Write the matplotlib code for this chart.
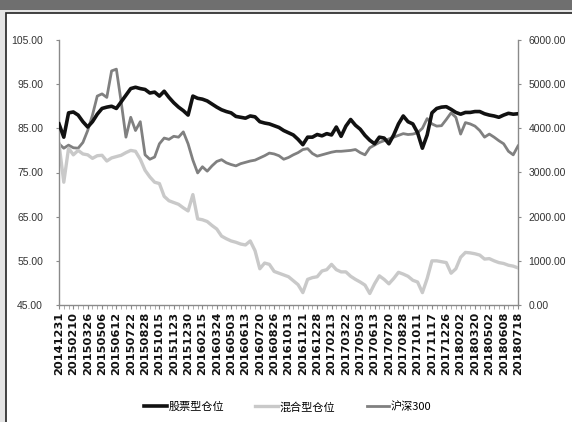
import numpy as np
import matplotlib
matplotlib.use("Agg")
import matplotlib.pyplot as plt
from matplotlib.patches import Rectangle
from matplotlib.ticker import FormatStrFormatter

plt.rcParams['font.family'] = ['Noto Sans CJK SC', 'DejaVu Sans']

tick_labels = ["20141231", "20150210", "20150326", "20150506", "20150612", "20150722",
               "20150828", "20151015", "20151123", "20151230", "20160215", "20160324",
               "20160503", "20160613", "20160720", "20160826", "20161013", "20161121",
               "20161228", "20170213", "20170322", "20170503", "20170613", "20170720",
               "20170828", "20171011", "20171117", "20171226", "20180202", "20180320",
               "20180502", "20180608", "20180718"]

series_names = ["股票型仓位", "混合型仓位", "沪深300"]

left_ticks = [45, 55, 65, 75, 85, 95, 105]
right_ticks = [0, 1000, 2000, 3000, 4000, 5000, 6000]

stock_pos = [86.0, 83.0, 88.5, 88.7, 88.0, 86.5, 85.3, 86.5, 88.2, 89.5,
             89.8, 90.0, 89.5, 91.0, 92.5, 94.0, 94.3, 94.0, 93.8, 93.0,
             93.2, 92.3, 93.4, 92.0, 90.8, 89.8, 89.0, 88.0, 92.3, 91.8,
             91.6, 91.2, 90.5, 89.8, 89.2, 88.8, 88.5, 87.7, 87.5, 87.3,
             87.8, 87.6, 86.5, 86.2, 86.0, 85.6, 85.2, 84.5, 84.0, 83.5,
             82.5, 81.3, 83.0, 83.0, 83.6, 83.3, 83.8, 83.5, 85.3, 83.2,
             85.5, 87.0, 85.7, 84.8, 83.4, 82.3, 81.5, 83.0, 82.8, 81.5,
             83.5, 86.0, 87.8, 86.5, 86.0, 84.0, 80.5, 83.5, 88.5, 89.5,
             89.8, 89.9, 89.3, 88.6, 88.2, 88.6, 88.6, 88.8, 88.8, 88.3,
             88.0, 87.8, 87.5, 88.0, 88.4, 88.2, 88.3]

mixed_pos = [81.5, 72.8, 80.5, 79.0, 80.0, 79.2, 79.0, 78.2, 78.8, 78.9,
             77.6, 78.3, 78.6, 78.9, 79.5, 80.0, 79.8, 78.0, 75.5, 74.0,
             72.8, 72.5, 69.6, 68.6, 68.2, 67.8, 67.0, 66.3, 70.0, 64.5,
             64.3, 63.9, 63.0, 62.2, 60.6, 60.0, 59.5, 59.2, 58.8, 58.6,
             59.5, 57.3, 53.2, 54.5, 54.2, 52.6, 52.2, 51.8, 51.4, 50.5,
             49.6, 47.8, 50.8, 51.2, 51.4, 52.7, 53.0, 54.2, 53.0, 52.5,
             52.5, 51.5, 50.8, 50.2, 49.5, 47.6, 49.8, 51.6, 50.8, 49.8,
             51.0, 52.4, 52.0, 51.5, 50.6, 50.2, 47.8, 51.0, 55.0, 55.0,
             54.8, 54.6, 52.2, 53.2, 55.8, 56.9, 56.8, 56.6, 56.3, 55.4,
             55.5, 55.0, 54.6, 54.4, 54.0, 53.8, 53.4]

hs300 = [3650, 3550, 3620, 3560, 3550, 3680, 3950, 4300, 4730, 4780,
         4700, 5300, 5340, 4600, 3800, 4250, 3950, 4150, 3400, 3300,
         3350, 3650, 3780, 3750, 3820, 3800, 3920, 3650, 3280, 2990,
         3130, 3030, 3150, 3250, 3290, 3220, 3180, 3150, 3200, 3230,
         3260, 3280, 3330, 3380, 3440, 3420, 3380, 3300, 3340, 3400,
         3450, 3520, 3540, 3430, 3370, 3400, 3430, 3460, 3480, 3480,
         3490, 3500, 3520, 3450, 3400, 3560, 3620, 3680, 3720, 3760,
         3800, 3840, 3880, 3860, 3870, 3900, 4000, 4220, 4100, 4050,
         4060, 4200, 4350, 4250, 3870, 4130, 4100, 4050, 3950, 3800,
         3870, 3800, 3720, 3650, 3480, 3400, 3600]

W, H = 572, 422
fig = plt.figure(figsize=(W / 100, H / 100), dpi=100)
fig.patch.set_facecolor('#e4e4e4')

# title band and white panel (behind the axes)
fig.patches.append(Rectangle((0, 1 - 10 / H), 1, 10 / H, transform=fig.transFigure,
                             facecolor='#6f6f6f', edgecolor='none', zorder=-10))
fig.patches.append(Rectangle((6 / W, -0.05), 1.1, 1 - 13 / H + 0.05, transform=fig.transFigure,
                             facecolor='white', edgecolor='#222222', linewidth=1.2, zorder=-10))

ax = fig.add_axes([59 / W, 1 - 305 / H, (518 - 59) / W, (305 - 40) / H])
ax2 = ax.twinx()

x = np.arange(len(stock_pos))

l2, = ax2.plot(x, hs300, color='#808080', lw=2.0, label=series_names[2])
l0, = ax.plot(x, stock_pos, color='#111111', lw=2.6, label=series_names[0], zorder=3)
l1, = ax.plot(x, mixed_pos, color='#c9c9c9', lw=2.4, label=series_names[1], zorder=2)

ax2.set_zorder(1)
ax.set_zorder(2)
ax.patch.set_visible(False)
ax2.patch.set_visible(False)

ax.set_xlim(0, len(stock_pos) - 1)
ax.set_ylim(left_ticks[0], left_ticks[-1])
ax2.set_ylim(right_ticks[0], right_ticks[-1])
ax.set_yticks(left_ticks)
ax2.set_yticks(right_ticks)
ax.yaxis.set_major_formatter(FormatStrFormatter('%.2f'))
ax2.yaxis.set_major_formatter(FormatStrFormatter('%.2f'))

tick_pos = x[::3]
ax.set_xticks(tick_pos)
ax.set_xticklabels(tick_labels, rotation=90, fontsize=8.2, fontweight='bold',
                   family=['DejaVu Sans'], color='#111111')
ax.set_xticks(x, minor=True)

for a in (ax, ax2):
    for s in a.spines.values():
        s.set_visible(False)
ax.spines['left'].set_visible(True)
ax.spines['bottom'].set_visible(True)
ax2.spines['right'].set_visible(True)
for s in (ax.spines['left'], ax.spines['bottom'], ax2.spines['right']):
    s.set_color('#8a8a8a')
    s.set_linewidth(1.0)

ax.tick_params(axis='y', length=2.5, color='#8a8a8a', pad=9, labelsize=7.5, labelcolor='#333333')
ax2.tick_params(axis='y', length=2.5, color='#8a8a8a', pad=5, labelsize=7.5, labelcolor='#333333')
for lab in ax.get_yticklabels() + ax2.get_yticklabels():
    lab.set_family(['Liberation Sans', 'DejaVu Sans'])
ax.tick_params(axis='x', which='major', length=3, color='#8a8a8a', pad=2)
ax.tick_params(axis='x', which='minor', length=3, color='#a0a0a0')

fig.legend([l0, l1, l2], series_names, loc='center', bbox_to_anchor=(288 / W, 1 - 407 / H),
           ncol=3, frameon=False, handlelength=2.0, handletextpad=0.2, columnspacing=2.8,
           prop={'family': ['Noto Sans CJK SC', 'DejaVu Sans'], 'size': 8})

fig.savefig('out.png', dpi=100, facecolor=fig.get_facecolor())
